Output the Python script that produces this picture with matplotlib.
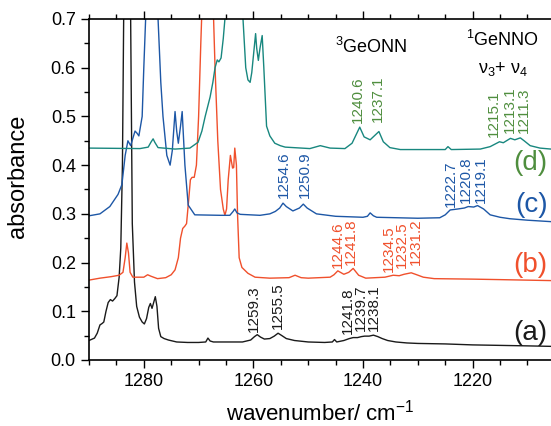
import matplotlib
matplotlib.use('Agg')
import matplotlib.pyplot as plt
from matplotlib.ticker import MultipleLocator, FormatStrFormatter

plt.rcParams['font.family'] = ['Liberation Sans', 'DejaVu Sans']
plt.rcParams['mathtext.fontset'] = 'custom'
plt.rcParams['mathtext.rm'] = 'Liberation Sans'
plt.rcParams['mathtext.it'] = 'Liberation Sans:italic'

# spectrum (a), black
wn_a = [1290, 1289.0, 1288.5, 1288.0, 1287.6, 1287.3, 1286.9, 1286.5, 1286.1, 1285.7,
        1285.3, 1284.9, 1284.5, 1284.2, 1283.9, 1283.6, 1283.3, 1283.0, 1282.7, 1282.4,
        1282.1, 1281.7, 1281.3, 1280.8, 1280.3, 1279.9, 1279.5, 1279.1, 1278.8, 1278.5,
        1278.2, 1277.9, 1277.6, 1277.3, 1276.9, 1276.3, 1275.5, 1274, 1272, 1270,
        1268.7, 1268.3, 1267.9, 1267.3, 1265, 1262, 1260.5, 1259.8, 1259.3, 1258.7,
        1258.0, 1257.0, 1256.2, 1255.5, 1254.8, 1254.0, 1252.5, 1250, 1247, 1245.6,
        1245.2, 1244.8, 1243.5, 1242.5, 1241.8, 1241.0, 1240.3, 1239.7, 1238.9, 1238.1,
        1237.3, 1236.5, 1235.5, 1234, 1232, 1230, 1225, 1220, 1215, 1210, 1205.7]
abs_a = [0.040, 0.045, 0.055, 0.072, 0.075, 0.078, 0.100, 0.118, 0.124, 0.121,
         0.126, 0.132, 0.170, 0.230, 0.400, 0.800, 1.500, 2.000, 1.500, 0.700,
         0.280, 0.160, 0.110, 0.088, 0.078, 0.074, 0.085, 0.108, 0.116, 0.106,
         0.118, 0.130, 0.110, 0.065, 0.048, 0.044, 0.041, 0.037, 0.036, 0.036,
         0.037, 0.045, 0.039, 0.037, 0.037, 0.037, 0.041, 0.048, 0.052, 0.047,
         0.043, 0.044, 0.049, 0.055, 0.050, 0.044, 0.040, 0.037, 0.036, 0.037,
         0.042, 0.037, 0.040, 0.044, 0.046, 0.046, 0.048, 0.049, 0.049, 0.051,
         0.048, 0.044, 0.040, 0.037, 0.035, 0.034, 0.033, 0.031, 0.030, 0.029, 0.028]

# spectrum (b), red
wn_b = [1290, 1288, 1286, 1284.5, 1283.8, 1283.4, 1283.1, 1282.8, 1282.5, 1282.0,
        1280, 1279.3, 1278.7, 1277.5, 1276, 1275, 1274.3, 1273.7, 1273.3, 1272.9,
        1272.5, 1272.2, 1271.8, 1271.5, 1271.2, 1270.8, 1270.4, 1270.0, 1269.6, 1269.3,
        1268.3, 1267.4, 1267.0, 1266.5, 1266.0, 1265.5, 1265.2, 1264.9, 1264.6, 1264.2,
        1263.8, 1263.6, 1263.4, 1263.1, 1262.9, 1262.6, 1262.1, 1261, 1259.7, 1257,
        1253.5, 1252.4, 1251.3, 1250, 1246, 1245.3, 1244.6, 1243.5, 1242.6, 1241.8,
        1240.8, 1239.5, 1236, 1234.5, 1233.4, 1232.5, 1231.2, 1230.2, 1229, 1227,
        1220, 1215, 1205.7]
abs_b = [0.164, 0.168, 0.171, 0.174, 0.180, 0.210, 0.240, 0.220, 0.180, 0.170,
         0.170, 0.175, 0.172, 0.167, 0.169, 0.175, 0.185, 0.210, 0.250, 0.270,
         0.275, 0.280, 0.330, 0.370, 0.375, 0.375, 0.400, 0.500, 0.650, 0.750,
         1.000, 0.750, 0.600, 0.450, 0.350, 0.310, 0.297, 0.310, 0.370, 0.420,
         0.394, 0.395, 0.435, 0.400, 0.300, 0.210, 0.190, 0.178, 0.170, 0.168,
         0.169, 0.174, 0.169, 0.168, 0.170, 0.175, 0.183, 0.176, 0.180, 0.188,
         0.174, 0.168, 0.170, 0.174, 0.173, 0.176, 0.179, 0.175, 0.170, 0.167,
         0.166, 0.165, 0.163]

# spectrum (c), blue
wn_c = [1290, 1288, 1286.2, 1284.7, 1284.0, 1283.4, 1282.9, 1282.4, 1282.0, 1281.6,
        1281.2, 1280.9, 1280.3, 1280.0, 1279.6, 1279.3, 1278.5, 1277.7, 1277.4, 1276.9,
        1276.5, 1275.8, 1275.2, 1274.8, 1274.3, 1274.0, 1273.7, 1273.3, 1273.0, 1272.5,
        1271.9, 1270.7, 1266, 1264.3, 1263.7, 1263.4, 1263.0, 1262.4, 1258.8, 1257,
        1256.0, 1255.2, 1254.6, 1254.0, 1252.8, 1251.6, 1250.9, 1250.2, 1248.5, 1245,
        1240, 1239.2, 1238.7, 1238.1, 1237.5, 1230, 1226, 1225, 1224.1, 1222.7,
        1221.5, 1220.8, 1219.8, 1219.1, 1218, 1216.8, 1215, 1213.2, 1210, 1205.7]
abs_c = [0.296, 0.300, 0.315, 0.340, 0.360, 0.420, 0.450, 0.440, 0.455, 0.470,
         0.465, 0.460, 0.500, 0.600, 0.720, 0.850, 1.000, 0.850, 0.700, 0.570,
         0.500, 0.420, 0.400, 0.430, 0.510, 0.470, 0.445, 0.480, 0.510, 0.400,
         0.318, 0.298, 0.297, 0.297, 0.305, 0.310, 0.302, 0.299, 0.297, 0.300,
         0.305, 0.312, 0.322, 0.315, 0.306, 0.312, 0.320, 0.312, 0.300, 0.295,
         0.293, 0.295, 0.302, 0.296, 0.293, 0.291, 0.292, 0.298, 0.308, 0.310,
         0.312, 0.315, 0.314, 0.317, 0.310, 0.298, 0.293, 0.290, 0.287, 0.284]

# spectrum (d), teal
wn_d = [1290, 1280.7, 1279.2, 1278.7, 1278.3, 1278.0, 1277.4, 1274.3, 1271.6, 1270.1,
        1269.4, 1268.8, 1267.9, 1267.4, 1267.0, 1266.6, 1266.3, 1265.9, 1265.5, 1265.2,
        1263.5, 1261.9, 1261.4, 1261.0, 1260.6, 1260.3, 1259.6, 1259.4, 1259.1, 1258.8,
        1258.4, 1258.1, 1257.6, 1257.0, 1256.1, 1255.1, 1254.2, 1249.7, 1247.8, 1246.0,
        1243.3, 1242.0, 1240.6, 1239.8, 1238.7, 1237.1, 1236.3, 1235.1, 1233.2, 1225.0,
        1224.5, 1223.9, 1218.6, 1216.8, 1215.1, 1214.4, 1213.1, 1212.3, 1211.3, 1210.6,
        1209.5, 1207.7, 1205.7]
abs_d = [0.435, 0.434, 0.437, 0.447, 0.454, 0.447, 0.436, 0.433, 0.435, 0.447,
         0.470, 0.500, 0.540, 0.570, 0.600, 0.616, 0.612, 0.620, 0.660, 0.700,
         1.000, 0.700, 0.600, 0.575, 0.570, 0.590, 0.670, 0.640, 0.615, 0.640,
         0.666, 0.600, 0.480, 0.460, 0.445, 0.440, 0.437, 0.434, 0.440, 0.435,
         0.434, 0.445, 0.478, 0.458, 0.452, 0.469, 0.448, 0.436, 0.432, 0.432,
         0.438, 0.432, 0.433, 0.438, 0.448, 0.446, 0.455, 0.452, 0.456, 0.450,
         0.440, 0.435, 0.433]

# peak labels: text, x of label, y of label bottom
peaks_a = ['1259.3', '1255.5', '1241.8', '1239.7', '1238.1']
lx_a = [1260.0, 1255.6, 1242.8, 1240.4, 1238.0]
ly_a = [0.058, 0.064, 0.054, 0.060, 0.060]
peaks_b = ['1244.6', '1241.8', '1234.5', '1232.5', '1231.2']
lx_b = [1244.5, 1242.2, 1235.3, 1232.9, 1230.4]
ly_b = [0.188, 0.194, 0.180, 0.188, 0.194]
peaks_c = ['1254.6', '1250.9', '1222.7', '1220.8', '1219.1']
lx_c = [1254.4, 1250.6, 1224.0, 1221.2, 1218.5]
ly_c = [0.332, 0.332, 0.314, 0.322, 0.322]
peaks_d = ['1240.6', '1237.1', '1215.1', '1213.1', '1211.3']
lx_d = [1240.9, 1237.3, 1216.1, 1213.2, 1210.6]
ly_d = [0.486, 0.488, 0.458, 0.465, 0.465]

tags = ['(a)', '(b)', '(c)', '(d)']
tag_y = [0.055, 0.195, 0.318, 0.404]

black = '#1a1a1a'
red = '#f0502c'
blue = '#1d57a6'
teal = '#18877f'
green = '#4f8e3e'

dpi = 100
fig = plt.figure(figsize=(551 / dpi, 426 / dpi), dpi=dpi)
ax = fig.add_axes([89 / 551, 66 / 426, 1 - 89 / 551, 341 / 426])

ax.plot(wn_a, abs_a, c=black, lw=1.0)
ax.plot(wn_b, abs_b, c=red, lw=1.0)
ax.plot(wn_c, abs_c, c=blue, lw=1.0)
ax.plot(wn_d, abs_d, c=teal, lw=1.0)

series = [(peaks_a, lx_a, ly_a, black), (peaks_b, lx_b, ly_b, red),
          (peaks_c, lx_c, ly_c, blue), (peaks_d, lx_d, ly_d, green)]
for labels, xs, ys, col in series:
    for t, x, y in zip(labels, xs, ys):
        ax.text(x, y, t, rotation=90, ha='center', va='bottom',
                fontsize=11, color=col)

for t, y, col in zip(tags, tag_y, [black, red, blue, green]):
    ax.text(1206.3, y, t, ha='right', va='center', fontsize=20, color=col)

ax.text(1238.5, 0.642, '$^{3}$GeONN', ha='center', va='center', fontsize=13)
ax.text(1214.5, 0.658, '$^{1}$GeNNO', ha='center', va='center', fontsize=13)
ax.text(1214.5, 0.598, 'ν$_{3}$+ ν$_{4}$', ha='center', va='center', fontsize=13)

ax.set_xlim(1290, 1205.7)
ax.set_ylim(0, 0.7)
ax.xaxis.set_major_locator(MultipleLocator(20))
ax.xaxis.set_minor_locator(MultipleLocator(5))
ax.yaxis.set_major_locator(MultipleLocator(0.1))
ax.yaxis.set_minor_locator(MultipleLocator(0.05))
ax.yaxis.set_major_formatter(FormatStrFormatter('%.1f'))
ax.tick_params(which='both', direction='out', labelsize=13, width=1)
ax.tick_params(which='major', length=6)
ax.tick_params(which='minor', length=3.5)
ax.tick_params(axis='x', which='both', top=True)
ax.spines['right'].set_visible(False)
for s in ['left', 'bottom', 'top']:
    ax.spines[s].set_linewidth(1.2)

ax.set_xlabel('wavenumber/ cm$^{-1}$', fontsize=16)
ax.set_ylabel('absorbance', fontsize=17)
ax.xaxis.set_label_coords(0.5, -0.115)
ax.yaxis.set_label_coords(-0.13, 0.54)

fig.savefig('out.png', dpi=dpi)
